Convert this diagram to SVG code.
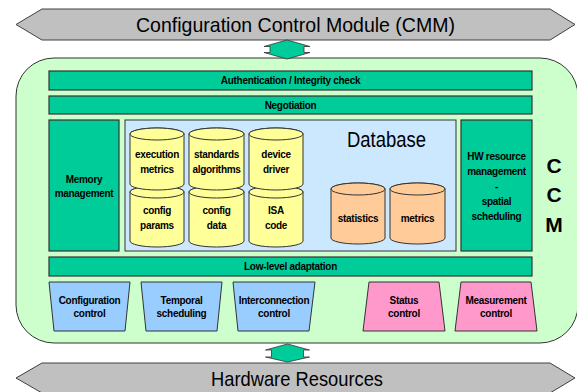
<svg xmlns="http://www.w3.org/2000/svg" width="577" height="392" viewBox="0 0 577 392">
<style>
text{font-family:"Liberation Sans",Arial,sans-serif;fill:#000;text-anchor:middle}
.banner{fill:#c0c0c0;stroke:#404040;stroke-width:1}
.btxt{font-size:21px}
.bar{fill:#00cc99;stroke:#333;stroke-width:1.2}
.lbl{font-size:10px;font-weight:bold;letter-spacing:-0.3px}
.cyl{fill:#ffff99;stroke:#333;stroke-width:1}
.ocyl{fill:#ffcc99;stroke:#333;stroke-width:1}
.blue{fill:#99ccff;stroke:#333;stroke-width:1}
.pink{fill:#ff99cc;stroke:#333;stroke-width:1}
.arrow{fill:#00cc99;stroke:#333;stroke-width:0.8}
.ccm{font-size:21px;font-weight:bold}
</style>

<g id="cmm-banner">
<polygon class="banner" points="16,24.5 42,9 550,9 575,24.5 550,40 42,40"/>
<text class="btxt" x="295.5" y="32" textLength="319" lengthAdjust="spacingAndGlyphs">Configuration Control Module (CMM)</text>
</g>

<g id="ccm-container">
<rect x="16" y="58" width="562" height="285" rx="38" ry="38" fill="#ccffcc" stroke="#333" stroke-width="1"/>
<text class="ccm" x="554" y="173">C</text>
<text class="ccm" x="554" y="202">C</text>
<text class="ccm" x="554" y="232">M</text>
</g>

<g id="auth">
<rect class="bar" x="49" y="71" width="483" height="19"/>
<text class="lbl" x="290.5" y="84">Authentication / Integrity check</text>
</g>

<g id="negotiation">
<rect class="bar" x="49" y="96" width="483" height="18"/>
<text class="lbl" x="290.5" y="108.5">Negotiation</text>
</g>

<g id="memory">
<rect class="bar" x="49" y="120" width="70" height="131"/>
<text class="lbl" x="84" y="183">Memory</text>
<text class="lbl" x="84" y="197">management</text>
</g>

<g id="database">
<rect x="125" y="120" width="331" height="131" fill="#cce8ff" stroke="#333" stroke-width="1"/>
<text x="386.5" y="147" font-size="22" textLength="79" lengthAdjust="spacingAndGlyphs">Database</text>
</g>

<g id="config-params">
<path class="cyl" d="M130,192 L130,241 A27,6 0 0 0 184,241 L184,192 A27,6 0 0 0 130,192 Z"/>
<ellipse class="cyl" cx="157" cy="192" rx="27" ry="6"/>
<text class="lbl" x="157" y="214">config</text>
<text class="lbl" x="157" y="229">params</text>
</g>
<g id="config-data">
<path class="cyl" d="M189,192 L189,241 A27.5,6 0 0 0 244,241 L244,192 A27.5,6 0 0 0 189,192 Z"/>
<ellipse class="cyl" cx="216.5" cy="192" rx="27.5" ry="6"/>
<text class="lbl" x="216.5" y="214">config</text>
<text class="lbl" x="216.5" y="229">data</text>
</g>
<g id="isa-code">
<path class="cyl" d="M249,192 L249,241 A27,6 0 0 0 303,241 L303,192 A27,6 0 0 0 249,192 Z"/>
<ellipse class="cyl" cx="276" cy="192" rx="27" ry="6"/>
<text class="lbl" x="276" y="214">ISA</text>
<text class="lbl" x="276" y="229">code</text>
</g>

<g id="execution-metrics">
<path class="cyl" d="M130,134 L130,184 A27,6 0 0 0 184,184 L184,134 A27,6 0 0 0 130,134 Z"/>
<ellipse class="cyl" cx="157" cy="134" rx="27" ry="6"/>
<text class="lbl" x="157" y="158">execution</text>
<text class="lbl" x="157" y="173">metrics</text>
</g>
<g id="standards-algorithms">
<path class="cyl" d="M189,134 L189,184 A27.5,6 0 0 0 244,184 L244,134 A27.5,6 0 0 0 189,134 Z"/>
<ellipse class="cyl" cx="216.5" cy="134" rx="27.5" ry="6"/>
<text class="lbl" x="216.5" y="158">standards</text>
<text class="lbl" x="216.5" y="173">algorithms</text>
</g>
<g id="device-driver">
<path class="cyl" d="M249,134 L249,184 A27,6 0 0 0 303,184 L303,134 A27,6 0 0 0 249,134 Z"/>
<ellipse class="cyl" cx="276" cy="134" rx="27" ry="6"/>
<text class="lbl" x="276" y="158">device</text>
<text class="lbl" x="276" y="173">driver</text>
</g>

<g id="statistics">
<path class="ocyl" d="M331,189 L331,238 A27,6 0 0 0 385,238 L385,189 A27,6 0 0 0 331,189 Z"/>
<ellipse class="ocyl" cx="358" cy="189" rx="27" ry="6"/>
<text class="lbl" x="358" y="222">statistics</text>
</g>
<g id="metrics">
<path class="ocyl" d="M390,189 L390,238 A27.5,6 0 0 0 445,238 L445,189 A27.5,6 0 0 0 390,189 Z"/>
<ellipse class="ocyl" cx="417.5" cy="189" rx="27.5" ry="6"/>
<text class="lbl" x="417.5" y="222">metrics</text>
</g>

<g id="hw-resource">
<rect class="bar" x="461" y="120" width="71" height="131"/>
<text class="lbl" x="496.5" y="160">HW resource</text>
<text class="lbl" x="496.5" y="175">management</text>
<text class="lbl" x="496.5" y="190">-</text>
<text class="lbl" x="496.5" y="205">spatial</text>
<text class="lbl" x="496.5" y="220">scheduling</text>
</g>

<g id="low-level">
<rect class="bar" x="49" y="257" width="483" height="19"/>
<text class="lbl" x="290.5" y="270">Low-level adaptation</text>
</g>

<g id="configuration-control">
<polygon class="blue" points="49,282 130,282 125,331 54,331"/>
<text class="lbl" x="89.5" y="304">Configuration</text>
<text class="lbl" x="89.5" y="317">control</text>
</g>
<g id="temporal-scheduling">
<polygon class="blue" points="141,282 222,282 217,331 146,331"/>
<text class="lbl" x="181.5" y="304">Temporal</text>
<text class="lbl" x="181.5" y="317">scheduling</text>
</g>
<g id="interconnection-control">
<polygon class="blue" points="233,282 315,282 309,331 238,331"/>
<text class="lbl" x="274" y="304">Interconnection</text>
<text class="lbl" x="274" y="317">control</text>
</g>
<g id="status-control">
<polygon class="pink" points="369,282 439,282 445,331 363,331"/>
<text class="lbl" x="404" y="304">Status</text>
<text class="lbl" x="404" y="317">control</text>
</g>
<g id="measurement-control">
<polygon class="pink" points="461,282 531,282 537,331 455,331"/>
<text class="lbl" x="496" y="304">Measurement</text>
<text class="lbl" x="496" y="317">control</text>
</g>

<g id="hardware-banner">
<polygon class="banner" points="16,378 42,363 550,363 575,378 550,393 42,393"/>
<text class="btxt" x="297" y="386" textLength="172" lengthAdjust="spacingAndGlyphs">Hardware Resources</text>
</g>

<g id="connectors">
<polygon class="arrow" points="287,40 310,46.5 304,46.5 304,52.5 310,52.5 287,59 264,52.5 270,52.5 270,46.5 264,46.5"/>
<polygon class="arrow" points="287.5,344 309.5,350 303.5,350 303.5,357 309.5,357 287.5,362 265.5,357 271.5,357 271.5,350 265.5,350"/>
</g>
</svg>
